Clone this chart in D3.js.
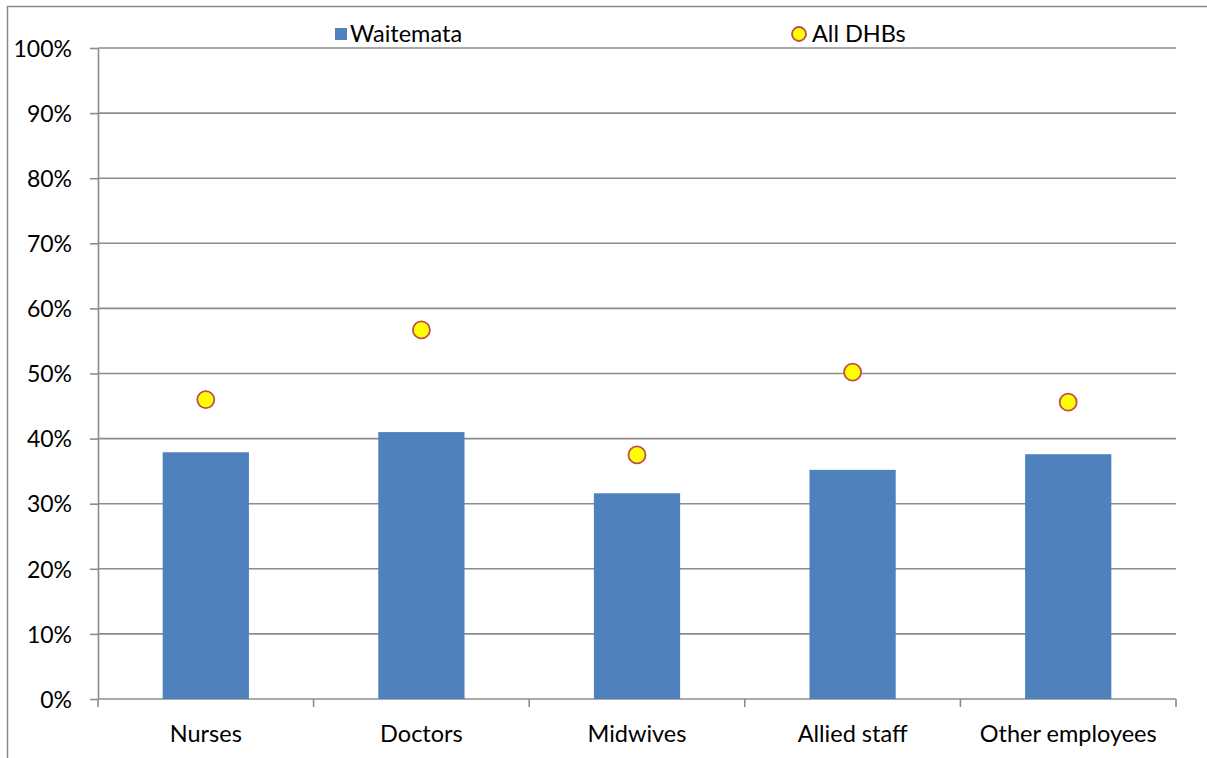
<!DOCTYPE html>
<html lang="en">

<head>
    <meta charset="UTF-8">
    <script src="https://d3js.org/d3.v7.min.js"></script>
    <title>Waitemata vs All DHBs</title>
    <style>
        body { margin: 0; background: #fff; }
        svg text { font-family: Lato, "Open Sans", sans-serif; fill: #000; }
    </style>
</head>

<body>
    <div id="chart"></div>
    <script>

        const categories = ["Nurses", "Doctors", "Midwives", "Allied staff", "Other employees"];
        const waitemata = [37.9, 41.0, 31.6, 35.2, 37.6];
        const allDhbs = [46.0, 56.7, 37.5, 50.2, 45.6];
        const yTicks = [0, 10, 20, 30, 40, 50, 60, 70, 80, 90, 100];

        const W = 1207, H = 758;
        const margin = { top: 48, right: 31, bottom: 59, left: 98 },
            width = W - margin.left - margin.right,
            height = H - margin.top - margin.bottom;

        const root = d3.select("#chart").append("svg")
            .attr("width", W)
            .attr("height", H);

        // chart frame (cropped on right and bottom)
        root.append("path")
            .attr("d", `M7.5,${H} V6.5 H${W}`)
            .attr("fill", "none")
            .attr("stroke", "#888")
            .attr("stroke-width", 1.5);

        const svg = root.append("g")
            .attr("transform", `translate(${margin.left},${margin.top})`);

        const x = d3.scaleBand()
            .domain(categories)
            .range([0, width])
            .paddingInner(0.6)
            .paddingOuter(0.3);

        const y = d3.scaleLinear()
            .domain([0, 100])
            .range([height, 0]);

        // gridlines
        svg.append("g")
            .selectAll("line")
            .data(yTicks.filter(d => d > 0))
            .join("line")
            .attr("x1", 0)
            .attr("x2", width)
            .attr("y1", d => y(d))
            .attr("y2", d => y(d))
            .attr("stroke", "#8c8c8c")
            .attr("stroke-width", 1.6);

        // y axis
        const yAxis = svg.append("g")
            .call(d3.axisLeft(y).tickValues(yTicks).tickFormat(d => d + "%").tickSize(8).tickSizeOuter(0))
        yAxis.select(".domain").attr("stroke", "#8c8c8c").attr("stroke-width", 1.6);
        yAxis.selectAll(".tick line").attr("stroke", "#8c8c8c").attr("stroke-width", 1.6);
        yAxis.selectAll(".tick text")
            .attr("x", -26)
            .attr("dy", "0.36em")
            .style("font-size", "23px")
            .style("font-family", "Lato, sans-serif");

        // x axis: ticks at band boundaries
        const xAxis = svg.append("g")
            .attr("transform", `translate(0,${height})`);
        xAxis.append("line")
            .attr("x1", 0).attr("x2", width)
            .attr("stroke", "#8c8c8c").attr("stroke-width", 1.6);
        const step = x.step();
        xAxis.selectAll(".bt")
            .data(d3.range(categories.length + 1))
            .join("line")
            .attr("class", "bt")
            .attr("x1", i => i * step).attr("x2", i => i * step)
            .attr("y1", 0).attr("y2", 8)
            .attr("stroke", "#8c8c8c").attr("stroke-width", 1.6);
        xAxis.selectAll("text")
            .data(categories)
            .join("text")
            .attr("x", d => x(d) + x.bandwidth() / 2)
            .attr("y", 43)
            .attr("text-anchor", "middle")
            .style("font-size", "23.5px")
            .text(d => d);

        // bars
        svg.selectAll(".bar")
            .data(waitemata)
            .join("rect")
            .attr("class", "bar")
            .attr("x", (d, i) => x(categories[i]))
            .attr("y", d => y(d))
            .attr("width", x.bandwidth())
            .attr("height", d => height - y(d))
            .attr("fill", "#4F81BD");

        // all DHB markers
        svg.selectAll(".dot")
            .data(allDhbs)
            .join("circle")
            .attr("class", "dot")
            .attr("cx", (d, i) => x(categories[i]) + x.bandwidth() / 2)
            .attr("cy", d => y(d))
            .attr("r", 8.5)
            .attr("fill", "#FFFF00")
            .attr("stroke", "#C0504D")
            .attr("stroke-width", 1.8);

        // legend
        const legend = root.append("g");
        legend.append("rect")
            .attr("x", 335).attr("y", 28)
            .attr("width", 12).attr("height", 12)
            .attr("fill", "#4F81BD");
        legend.append("text")
            .attr("x", 350).attr("y", 34)
            .attr("dy", "0.36em")
            .style("font-size", "23.5px")
            .text("Waitemata");
        legend.append("circle")
            .attr("cx", 799).attr("cy", 34)
            .attr("r", 7)
            .attr("fill", "#FFFF00")
            .attr("stroke", "#C0504D")
            .attr("stroke-width", 1.8);
        legend.append("text")
            .attr("x", 812).attr("y", 34)
            .attr("dy", "0.36em")
            .style("font-size", "23.5px")
            .text("All DHBs");

    </script>
</body>

</html>
